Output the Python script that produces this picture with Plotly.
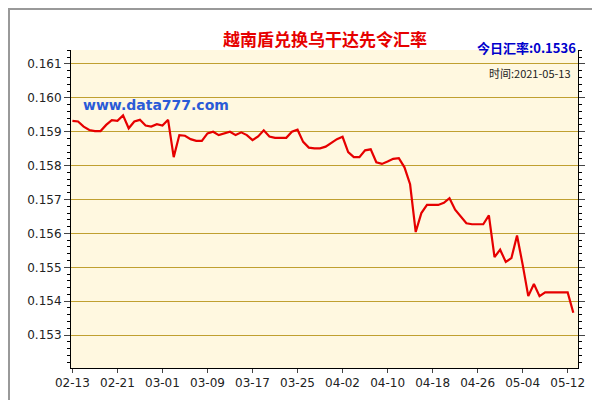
import pandas as pd
import plotly.graph_objects as go

# daily VND->UGX rate, 2021-02-13 .. 2021-05-13
start_date = "2021-02-13"
rates = [
    0.15932, 0.15930, 0.15915, 0.15905, 0.15902, 0.15902, 0.15920, 0.15934, 0.15932, 0.15948,
    0.15910, 0.15930, 0.15935, 0.15918, 0.15915, 0.15922, 0.15918, 0.15935, 0.15825, 0.15890,
    0.15888, 0.15878, 0.15873, 0.15873, 0.15895, 0.15900, 0.15890, 0.15896, 0.15900, 0.15890,
    0.15898, 0.15890, 0.15875, 0.15886, 0.15904, 0.15886, 0.15882, 0.15882, 0.15882, 0.15900,
    0.15906, 0.15870, 0.15853, 0.15851, 0.15851, 0.15856, 0.15868, 0.15878, 0.15885, 0.15840,
    0.15825, 0.15825, 0.15845, 0.15848, 0.15810, 0.15805, 0.15812, 0.15820, 0.15822, 0.15795,
    0.15745, 0.15604, 0.15660, 0.15684, 0.15684, 0.15684, 0.15690, 0.15704, 0.15670, 0.15650,
    0.15630, 0.15627, 0.15627, 0.15627, 0.15653, 0.15530, 0.15552, 0.15516, 0.15527, 0.15594,
    0.15508, 0.15415, 0.15451, 0.15415, 0.15426, 0.15426, 0.15426, 0.15426, 0.15426, 0.15366,
]
dates = pd.date_range(start_date, periods=len(rates), freq="D")
tick_dates = dates[::8]
tick_labels = [d.strftime("%m-%d") for d in tick_dates]
y_ticks = [0.153, 0.154, 0.155, 0.156, 0.157, 0.158, 0.159, 0.160, 0.161]

fig = go.Figure(go.Scatter(x=dates, y=rates, mode="lines",
                           line=dict(color="#e60000", width=2.2)))

pw, ph = 507, 318  # plot area size in px
fig.update_layout(
    width=600, height=400, autosize=False,
    margin=dict(l=63, r=30, t=42, b=40, autoexpand=False),
    paper_bgcolor="#ffffff",
    plot_bgcolor="#fff8e0",
    showlegend=False,
    font=dict(family="DejaVu Sans", size=12, color="#222"),
    xaxis=dict(range=[dates[0] - pd.Timedelta(hours=6), dates[-1] + pd.Timedelta(hours=20)],
               tickvals=tick_dates, ticktext=tick_labels, showgrid=False,
               showline=True, linecolor="#000", ticks="outside", ticklen=4),
    yaxis=dict(range=[0.15203, 0.16141], tickvals=y_ticks, tickformat=".3f",
               showgrid=True, gridcolor="#c0a030", gridwidth=1,
               showline=True, linecolor="#000", ticks="outside", ticklen=6, mirror="ticks",
               minor=dict(dtick=0.0002, ticks="outside", ticklen=3, tickcolor="#000"),
               zeroline=False),
    shapes=[dict(type="rect", xref="paper", yref="paper",
                 x0=-62 / pw, x1=1 + 29 / pw, y0=-39 / ph, y1=1 + 41 / ph,
                 line=dict(color="#999", width=2))],
    annotations=[
        dict(text="<b>越南盾兑换乌干达先令汇率</b>", x=0.5, y=1.0, xref="paper", yref="paper",
             yshift=26, showarrow=False, font=dict(size=17, color="#e60000", family="Noto Sans CJK SC")),
        dict(text="<b>今日汇率:0.1536</b>", x=1.0, y=1.0, xref="paper", yref="paper", xanchor="right",
             yshift=14, showarrow=False, font=dict(size=13, color="#0000cc", family="Noto Sans CJK SC")),
        dict(text="<b>www.data777.com</b>", x=0.02, y=0.86, xref="paper", yref="paper", xanchor="left",
             showarrow=False, font=dict(size=14, color="#2a5bd7")),
        dict(text="时间:2021-05-13", x=0.99, y=0.96, xref="paper", yref="paper", xanchor="right",
             showarrow=False, font=dict(size=11, color="#222", family="Noto Sans CJK SC")),
    ],
)

fig.write_html("out.html")
